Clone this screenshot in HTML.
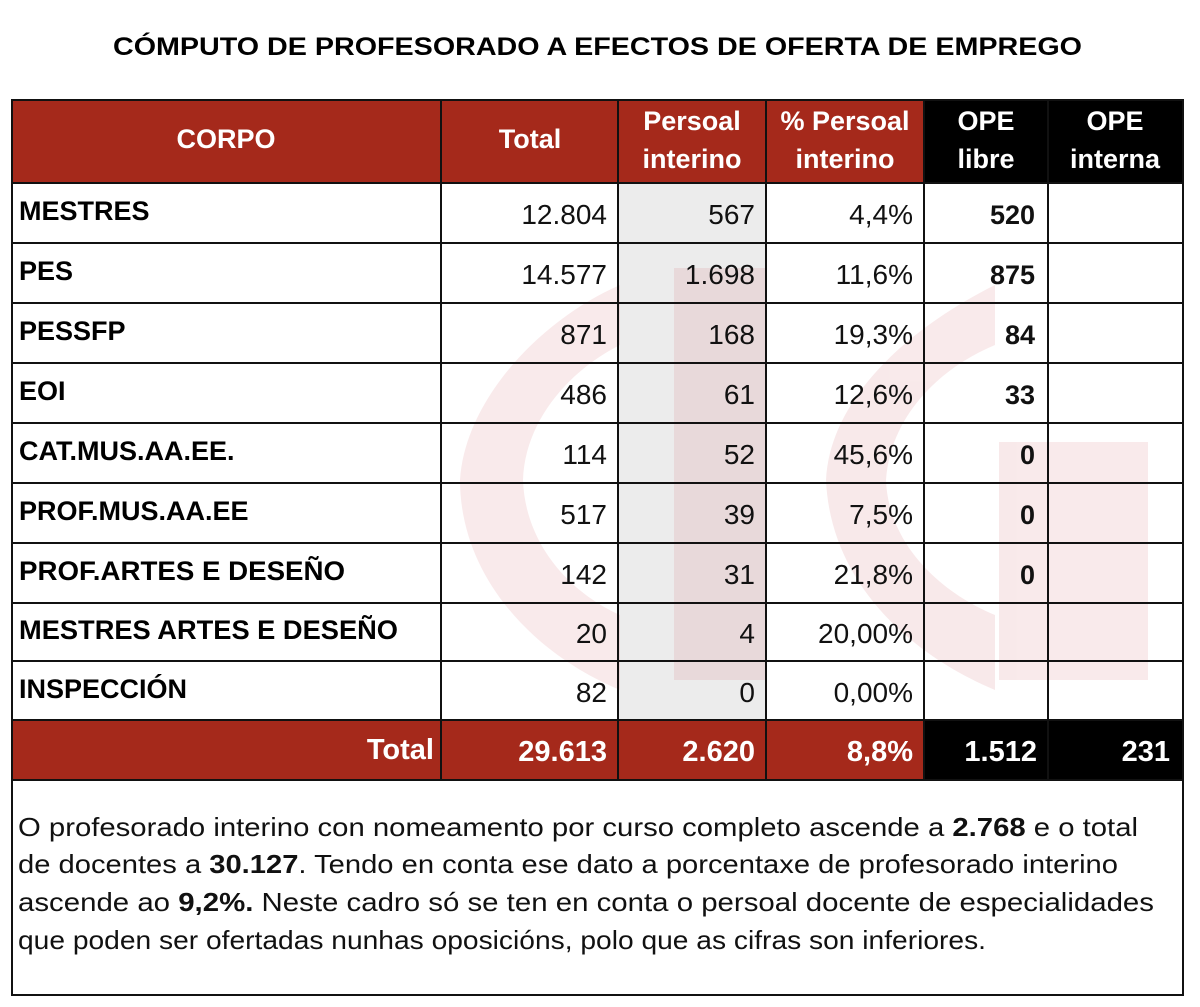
<!DOCTYPE html>
<html><head><meta charset="utf-8"><style>
body{margin:0;background:#fff;}
svg{display:block;font-family:"Liberation Sans",Arial,sans-serif;}
</style></head><body>
<svg width="1200" height="1007" viewBox="0 0 1200 1007" xmlns="http://www.w3.org/2000/svg">
<rect width="1200" height="1007" fill="#fff"/>
<text x="113" y="55" font-size="25" font-weight="bold" fill="#000" textLength="969" lengthAdjust="spacingAndGlyphs">CÓMPUTO DE PROFESORADO A EFECTOS DE OFERTA DE EMPREGO</text>
<rect x="618" y="183" width="148" height="537" fill="#ececec"/>
<g fill="#c0303a" opacity="0.1">
<path d="M620,285 C540,320 465,400 460,480 C460,570 525,650 620,690 L620,615 C565,590 525,540 523,480 C525,420 570,370 620,345 Z"/>
<rect x="674" y="268" width="91" height="412"/>
<path d="M995,285 C905,330 830,400 826,480 C830,575 900,650 995,690 L995,615 C935,590 888,540 886,480 C890,420 935,370 995,345 Z"/>
<rect x="999" y="442" width="149" height="238"/>
</g>
<rect x="12" y="100" width="912" height="83" fill="#a5291b"/>
<rect x="924" y="100" width="259" height="83" fill="#000"/>
<rect x="12" y="720" width="912" height="60" fill="#a5291b"/>
<rect x="924" y="720" width="259" height="60" fill="#000"/>
<g stroke="#111" stroke-width="2" fill="none">
<rect x="12" y="100" width="1171" height="895"/>
<line x1="12" y1="183" x2="1183" y2="183"/>
<line x1="12" y1="243" x2="1183" y2="243"/>
<line x1="12" y1="303" x2="1183" y2="303"/>
<line x1="12" y1="363" x2="1183" y2="363"/>
<line x1="12" y1="423" x2="1183" y2="423"/>
<line x1="12" y1="483" x2="1183" y2="483"/>
<line x1="12" y1="543" x2="1183" y2="543"/>
<line x1="12" y1="603" x2="1183" y2="603"/>
<line x1="12" y1="661" x2="1183" y2="661"/>
<line x1="12" y1="720" x2="1183" y2="720"/>
<line x1="12" y1="780" x2="1183" y2="780"/>
<line x1="441" y1="100" x2="441" y2="780"/>
<line x1="618" y1="100" x2="618" y2="780"/>
<line x1="766" y1="100" x2="766" y2="780"/>
<line x1="924" y1="100" x2="924" y2="780"/>
<line x1="1048" y1="100" x2="1048" y2="780"/>
</g>
<g fill="#fff" font-weight="bold" font-size="27" text-anchor="middle">
<text x="226" y="148">CORPO</text>
<text x="530" y="148">Total</text>
<text x="692" y="130">Persoal</text><text x="692" y="168">interino</text>
<text x="845" y="130">% Persoal</text><text x="845" y="168">interino</text>
<text x="986" y="130">OPE</text><text x="986" y="168">libre</text>
<text x="1115" y="130">OPE</text><text x="1115" y="168">interna</text>
</g>
<g fill="#000" font-weight="bold" font-size="27">
<text x="19" y="220">MESTRES</text>
<text x="19" y="280">PES</text>
<text x="19" y="340">PESSFP</text>
<text x="19" y="400">EOI</text>
<text x="19" y="460">CAT.MUS.AA.EE.</text>
<text x="19" y="520">PROF.MUS.AA.EE</text>
<text x="19" y="580" textLength="326" lengthAdjust="spacingAndGlyphs">PROF.ARTES E DESEÑO</text>
<text x="19" y="639" textLength="379" lengthAdjust="spacingAndGlyphs">MESTRES ARTES E DESEÑO</text>
<text x="19" y="698">INSPECCIÓN</text>
</g>
<g fill="#111" font-size="28" text-anchor="end">
<text x="607" y="224">12.804</text><text x="755" y="224">567</text><text x="913" y="224">4,4%</text>
<text x="607" y="284">14.577</text><text x="755" y="284">1.698</text><text x="913" y="284">11,6%</text>
<text x="607" y="344">871</text><text x="755" y="344">168</text><text x="913" y="344">19,3%</text>
<text x="607" y="404">486</text><text x="755" y="404">61</text><text x="913" y="404">12,6%</text>
<text x="607" y="464">114</text><text x="755" y="464">52</text><text x="913" y="464">45,6%</text>
<text x="607" y="524">517</text><text x="755" y="524">39</text><text x="913" y="524">7,5%</text>
<text x="607" y="584">142</text><text x="755" y="584">31</text><text x="913" y="584">21,8%</text>
<text x="607" y="643">20</text><text x="755" y="643">4</text><text x="913" y="643">20,00%</text>
<text x="607" y="702">82</text><text x="755" y="702">0</text><text x="913" y="702">0,00%</text>
</g>
<g fill="#111" font-size="27" font-weight="bold" text-anchor="end">
<text x="1035" y="224">520</text>
<text x="1035" y="284">875</text>
<text x="1035" y="344">84</text>
<text x="1035" y="404">33</text>
<text x="1035" y="464">0</text>
<text x="1035" y="524">0</text>
<text x="1035" y="584">0</text>
</g>
<g fill="#fff" font-size="29" font-weight="bold" text-anchor="end">
<text x="434" y="759">Total</text>
<text x="607" y="761">29.613</text>
<text x="755" y="761">2.620</text>
<text x="913" y="761">8,8%</text>
<text x="1037" y="761">1.512</text>
<text x="1170" y="761">231</text>
</g>
<g fill="#111" font-size="26">
<text x="18" y="836" textLength="1120" lengthAdjust="spacingAndGlyphs">O profesorado interino con nomeamento por curso completo ascende a <tspan font-weight="bold">2.768</tspan> e o total</text>
<text x="18" y="873" textLength="1100" lengthAdjust="spacingAndGlyphs">de docentes a <tspan font-weight="bold">30.127</tspan>. Tendo en conta ese dato a porcentaxe de profesorado interino</text>
<text x="18" y="911" textLength="1136" lengthAdjust="spacingAndGlyphs">ascende ao <tspan font-weight="bold">9,2%.</tspan> Neste cadro só se ten en conta o persoal docente de especialidades</text>
<text x="18" y="949" textLength="968" lengthAdjust="spacingAndGlyphs">que poden ser ofertadas nunhas oposicións, polo que as cifras son inferiores.</text>
</g>
</svg>
</body></html>
